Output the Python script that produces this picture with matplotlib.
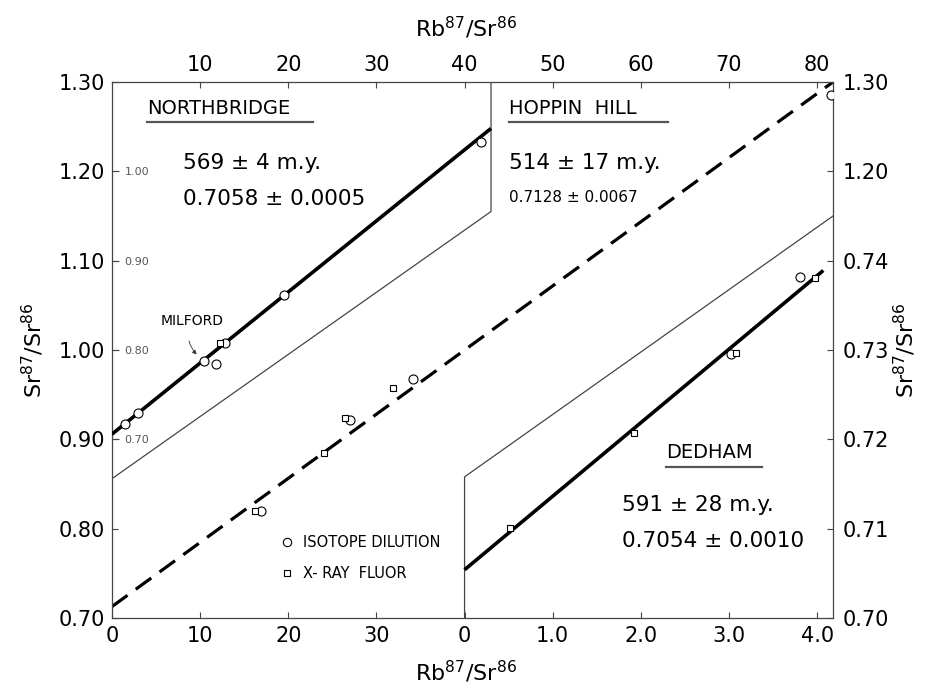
import matplotlib
matplotlib.use('Agg')
import matplotlib.pyplot as plt
from matplotlib.lines import Line2D

# Northbridge, read on the small inner scale (left side, 0.70 - 1.00)
nb_iso_x = [1.5, 3.0, 10.4, 11.8, 12.8, 19.5, 41.9]
nb_iso_y = [0.7175, 0.730, 0.788, 0.784, 0.808, 0.862, 1.033]
nb_xrf_x = [12.2]
nb_xrf_y = [0.808]
nb_line_x = [0, 43]
nb_line_y = [0.7058, 1.048]
nb_edge_x = [0, 43, 43]
nb_edge_y = [0.656, 0.955, 1.10]

# Hoppin Hill, top x scale and left y scale
hh_iso_x = [16.9, 27.0, 34.2, 81.6]
hh_iso_y = [0.820, 0.922, 0.968, 1.286]
hh_xrf_x = [16.2, 24.1, 26.4, 31.9]
hh_xrf_y = [0.820, 0.885, 0.924, 0.957]
hh_line_x = [0, 81.8]
hh_line_y = [0.7128, 1.300]

# Dedham, bottom-right x scale and right y scale
de_iso_x = [3.02, 3.80]
de_iso_y = [0.7296, 0.7382]
de_xrf_x = [0.52, 1.92, 3.08, 3.98]
de_xrf_y = [0.7101, 0.7207, 0.7297, 0.7381]
de_line_x = [0, 4.07]
de_line_y = [0.7054, 0.7389]
de_edge_x = [0, 0, 4.18]
de_edge_y = [0.70, 0.7158, 0.745]

left_ticks = [0.70, 0.80, 0.90, 1.00, 1.10, 1.20, 1.30]
left_labels = ['0.70', '0.80', '0.90', '1.00', '1.10', '1.20', '1.30']
inner_ticks = [0.70, 0.80, 0.90, 1.00]
inner_labels = ['0.70', '0.80', '0.90', '1.00']
top_ticks = [10, 20, 30, 40, 50, 60, 70, 80]
top_labels = ['10', '20', '30', '40', '50', '60', '70', '80']
nb_bottom_ticks = [0, 10, 20, 30]
nb_bottom_labels = ['0', '10', '20', '30']
de_bottom_ticks = [0, 1, 2, 3, 4]
de_bottom_labels = ['0', '1.0', '2.0', '3.0', '4.0']
de_right_ticks = [0.70, 0.71, 0.72, 0.73, 0.74]
de_right_labels = ['0.70', '0.71', '0.72', '0.73', '0.74']
hh_right_ticks = [1.20, 1.30]
hh_right_labels = ['1.20', '1.30']

plt.rcParams['font.family'] = ['DejaVu Sans']
FS = 15
TICKC = '#444444'

fig = plt.figure(figsize=(9.31, 6.97), dpi=100)
pos = [112/931, 1-618/697, 721/931, 536/697]

# main axes: Hoppin Hill scale
ax = fig.add_axes(pos)
ax.set_xlim(0, 81.8)
ax.set_ylim(0.70, 1.30)
for s in ax.spines.values():
    s.set_linewidth(0.9)
    s.set_color('#444444')
ax.set_xticks(nb_bottom_ticks, nb_bottom_labels)
ax.set_yticks(left_ticks, left_labels)
ax.tick_params(direction='in', length=4.5, width=0.8, color=TICKC, labelsize=FS)
ax.tick_params(axis='x', pad=6)
ax.tick_params(axis='y', pad=5)

top = ax.secondary_xaxis('top')
top.set_xticks(top_ticks, top_labels)
top.tick_params(direction='in', length=4.5, width=0.8, color=TICKC, labelsize=FS, pad=5)
top.spines['top'].set_visible(False)

right = ax.secondary_yaxis('right')
right.set_yticks(hh_right_ticks, hh_right_labels)
right.tick_params(direction='in', length=4.5, width=0.8, color=TICKC, labelsize=FS, pad=7)
right.spines['right'].set_visible(False)

ax.plot(hh_line_x, hh_line_y, color='black', lw=2.3, dashes=(6, 3.2), zorder=2)
ax.plot(hh_iso_x, hh_iso_y, 'o', ms=6.5, mfc='white', mec='black', mew=0.8, zorder=4)
ax.plot(hh_xrf_x, hh_xrf_y, 's', ms=4.5, mfc='white', mec='black', mew=0.8, zorder=4)

# Northbridge overlay, same x, y shifted by 0.20
ax_nb = fig.add_axes(pos, frameon=False)
ax_nb.set_xlim(0, 81.8)
ax_nb.set_ylim(0.50, 1.10)
ax_nb.patch.set_visible(False)
ax_nb.xaxis.set_visible(False)
ax_nb.set_yticks(inner_ticks, inner_labels)
ax_nb.tick_params(axis='y', direction='in', length=5, width=0.8, color=TICKC,
                  labelsize=8, labelcolor='#555555', pad=-9)
for lbl in ax_nb.get_yticklabels():
    lbl.set_horizontalalignment('left')
ax_nb.plot(nb_edge_x, nb_edge_y, color='#444444', lw=0.9, zorder=1)
ax_nb.plot(nb_line_x, nb_line_y, color='black', lw=2.6, solid_capstyle='butt', zorder=2)
ax_nb.plot(nb_iso_x, nb_iso_y, 'o', ms=6.5, mfc='white', mec='black', mew=0.8, zorder=4)
ax_nb.plot(nb_xrf_x, nb_xrf_y, 's', ms=4.5, mfc='white', mec='black', mew=0.8, zorder=4)
ax_nb.annotate('MILFORD', xy=(9.6, 0.795), xytext=(9.1, 0.832), fontsize=10,
               ha='center', va='center',
               arrowprops=dict(arrowstyle='-|>', lw=0.6, color='#333333',
                               connectionstyle='arc3,rad=0.35', mutation_scale=6,
                               shrinkA=7, shrinkB=0))

# Dedham overlay
ax_d = fig.add_axes(pos, frameon=False)
ax_d.set_xlim(-4.0, 4.18)
ax_d.set_ylim(0.70, 0.76)
ax_d.patch.set_visible(False)
ax_d.set_xticks(de_bottom_ticks, de_bottom_labels)
ax_d.yaxis.tick_right()
ax_d.set_yticks(de_right_ticks, de_right_labels)
ax_d.tick_params(direction='in', length=4.5, width=0.8, color=TICKC, labelsize=FS)
ax_d.tick_params(axis='x', pad=6)
ax_d.tick_params(axis='y', pad=7)
ax_d.plot(de_edge_x, de_edge_y, color='#444444', lw=0.9, zorder=1)
ax_d.plot(de_line_x, de_line_y, color='black', lw=2.6, solid_capstyle='butt', zorder=2)
ax_d.plot(de_iso_x, de_iso_y, 'o', ms=6.5, mfc='white', mec='black', mew=0.8, zorder=4)
ax_d.plot(de_xrf_x, de_xrf_y, 's', ms=4.5, mfc='white', mec='black', mew=0.8, zorder=4)

# titles and ages
def label(x, y, s, size, underline=None):
    ax_d.text(x, y, s, transform=ax.transAxes, fontsize=size, ha='left', va='center')
    if underline:
        ax_d.plot(underline, [y - 0.026, y - 0.026], transform=ax.transAxes,
                  color='#555555', lw=1.6)

label(0.0485, 0.951, 'NORTHBRIDGE', 14, (0.0485, 0.279))
label(0.0985, 0.849, '569 ± 4 m.y.', 15.5)
label(0.0985, 0.782, '0.7058 ± 0.0005', 15.5)
label(0.551, 0.951, 'HOPPIN  HILL', 14, (0.551, 0.771))
label(0.551, 0.849, '514 ± 17 m.y.', 15.5)
label(0.551, 0.785, '0.7128 ± 0.0067', 11)
label(0.768, 0.308, 'DEDHAM', 14, (0.768, 0.9015))
label(0.707, 0.211, '591 ± 28 m.y.', 15.5)
label(0.707, 0.144, '0.7054 ± 0.0010', 15.5)

handles = [Line2D([], [], ls='none', marker='o', ms=6, mfc='white', mec='black', mew=0.8),
           Line2D([], [], ls='none', marker='s', ms=4.5, mfc='white', mec='black', mew=0.8)]
ax_d.legend(handles, ['ISOTOPE DILUTION', 'X- RAY  FLUOR'], loc='upper left',
            bbox_to_anchor=(0.214, 0.18), bbox_transform=ax.transAxes, frameon=False,
            fontsize=10.5, handlelength=1.0, handletextpad=0.6, labelspacing=1.15)

ylab = r'Sr$^{87}$/Sr$^{86}$'
xlab = r'Rb$^{87}$/Sr$^{86}$'
fig.text(466/931, 1-28/697, xlab, fontsize=16, ha='center', va='center')
fig.text(466/931, 1-672/697, xlab, fontsize=16, ha='center', va='center')
fig.text(33/931, 1-350/697, ylab, fontsize=16, ha='center', va='center', rotation=90)
fig.text(905/931, 1-350/697, ylab, fontsize=16, ha='center', va='center', rotation=90)

fig.savefig('out.png', dpi=100)
